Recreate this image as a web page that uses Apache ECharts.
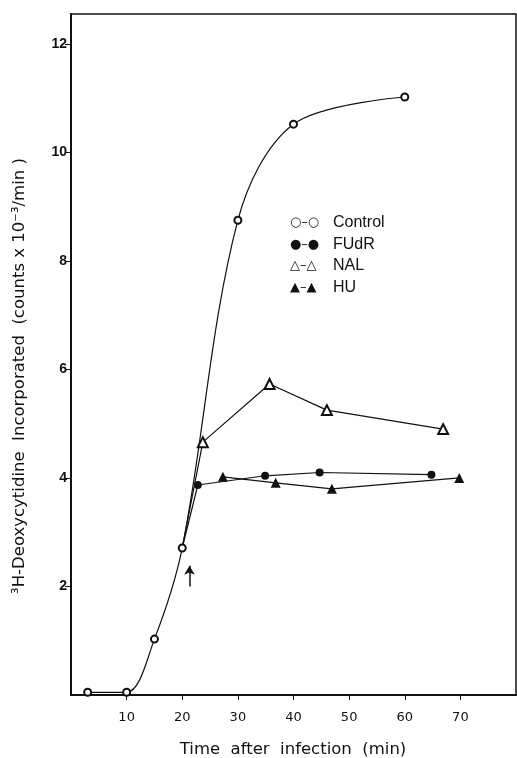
<!DOCTYPE html>
<html>
<head>
<meta charset="utf-8">
<script src="https://cdn.jsdelivr.net/npm/echarts@6/dist/echarts.min.js"></script>
<style>
html,body{margin:0;padding:0;background:#fff;}
#chart{width:517px;height:758px;}
</style>
</head>
<body>
<div id="chart"></div>
<script>
// ---- data ----
const controlTime  = [3, 10, 15, 20, 30, 40, 60];
const controlValue = [0.05, 0.05, 1.03, 2.71, 8.75, 10.52, 11.02];
const fudrTime  = [20, 22.8, 34.9, 44.7, 64.8];
const fudrValue = [2.71, 3.87, 4.04, 4.10, 4.06];
const nalTime  = [20, 23.7, 35.7, 46.0, 66.9];
const nalValue = [2.71, 4.66, 5.73, 5.25, 4.90];
const huTime  = [27.3, 36.8, 46.9, 69.8];
const huValue = [4.02, 3.91, 3.80, 4.00];
const arrowTime = 21.3;
const arrowFrom = 2.0;
const arrowTo = 2.38;
const legendSymbols = ['\u25CB\u2013\u25CB', '\u25CF\u2013\u25CF', '\u25B3\u2013\u25B3', '\u25B2\u2013\u25B2'];
const legendNames = ['Control', 'FUdR', 'NAL', 'HU'];
const xTitle = 'Time  after  infection  (min)';
const yTitle = '\u00B3H-Deoxycytidine  Incorporated  (counts x 10\u207B\u00B3/min )';

function pairs(xs, ys, skipFirstSymbol) {
  return xs.map((x, i) => {
    if (skipFirstSymbol && i === 0) return { value: [x, ys[i]], symbol: 'none' };
    return [x, ys[i]];
  });
}

const chart = echarts.init(document.getElementById('chart'));
const lineStyle = { color: '#111', width: 1.2 };

const graphics = [];
const legendY = [224, 246, 267, 289];
legendNames.forEach((n, i) => {
  graphics.push({
    type: 'text', left: 290, top: legendY[i] - 8,
    style: { text: legendSymbols[i], font: '13px "DejaVu Sans"', fill: '#111' }
  });
  graphics.push({
    type: 'text', left: 333, top: legendY[i] - 9,
    style: { text: n, font: '16px "Liberation Sans"', fill: '#111' }
  });
});
graphics.push({
  type: 'text', x: 20, y: 376, rotation: Math.PI / 2,
  style: { text: yTitle, font: '16.5px "DejaVu Sans"', fill: '#111', align: 'center', verticalAlign: 'middle' }
});
graphics.push({
  type: 'text', x: 293, y: 750,
  style: { text: xTitle, font: '16.5px "DejaVu Sans"', fill: '#111', align: 'center', verticalAlign: 'middle' }
});

chart.setOption({
  animation: false,
  backgroundColor: '#fff',
  grid: { left: 71, top: 14, right: 1, bottom: 63, show: true, borderColor: '#111', borderWidth: 1.5 },
  xAxis: {
    type: 'value', min: 0, max: 80, interval: 10,
    axisLine: { show: true, lineStyle: { color: '#111', width: 2 } },
    axisTick: { show: true, length: 5, inside: false, lineStyle: { color: '#111', width: 1 } },
    axisLabel: { showMinLabel: false, showMaxLabel: false, margin: 16, color: '#111', fontSize: 13, fontFamily: 'DejaVu Sans' },
    splitLine: { show: false }
  },
  yAxis: {
    type: 'value', min: 0, max: 12.55, interval: 2,
    axisLine: { show: true, lineStyle: { color: '#111', width: 2 } },
    axisTick: { show: true, length: 6, lineStyle: { color: '#111', width: 1 } },
    axisLabel: { showMinLabel: false, showMaxLabel: false, margin: 4, color: '#111', fontSize: 14, fontWeight: 'bold', fontFamily: 'Liberation Sans' },
    splitLine: { show: false }
  },
  graphic: graphics,
  series: [
    {
      name: 'Control', type: 'line', smooth: 0.33,
      data: pairs(controlTime, controlValue, false),
      symbol: 'emptyCircle', symbolSize: 7,
      itemStyle: { color: '#111', borderWidth: 1.2 },
      lineStyle: lineStyle,
      markLine: {
        silent: true, symbol: ['none', 'arrow'], symbolSize: [8, 9],
        label: { show: false },
        lineStyle: { color: '#111', width: 1.5, type: 'solid' },
        data: [[{ coord: [arrowTime, arrowFrom] }, { coord: [arrowTime, arrowTo] }]]
      }
    },
    {
      name: 'FUdR', type: 'line',
      data: pairs(fudrTime, fudrValue, true),
      symbol: 'circle', symbolSize: 8,
      itemStyle: { color: '#111' },
      lineStyle: lineStyle
    },
    {
      name: 'NAL', type: 'line',
      data: pairs(nalTime, nalValue, true),
      symbol: 'emptyTriangle', symbolSize: 10,
      itemStyle: { color: '#111', borderWidth: 1.2 },
      lineStyle: lineStyle
    },
    {
      name: 'HU', type: 'line',
      data: pairs(huTime, huValue, false),
      symbol: 'triangle', symbolSize: 10,
      itemStyle: { color: '#111' },
      lineStyle: lineStyle
    }
  ]
});
</script>
</body>
</html>
